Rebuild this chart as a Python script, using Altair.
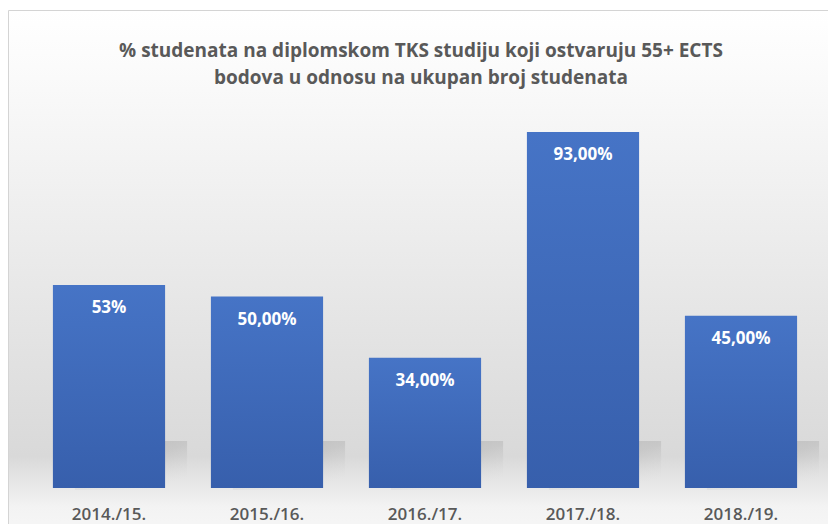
import altair as alt
import pandas as pd

categories = ["2014./15.", "2015./16.", "2016./17.", "2017./18.", "2018./19."]
values = [53, 50, 34, 93, 45]
value_labels = ["53%", "50,00%", "34,00%", "93,00%", "45,00%"]
title_lines = [
    "% studenata na diplomskom TKS studiju koji ostvaruju 55+ ECTS",
    "bodova u odnosu na ukupan broj studenata",
]

W, H = 820, 516
FONT = "Open Sans"
GREY_TEXT = "#595959"

df = pd.DataFrame({"cat": categories, "val": values, "lab": value_labels})
one = pd.DataFrame({"k": [0]})

xs = alt.Scale(domain=categories, range=[22, 812], paddingInner=0.29, paddingOuter=0.145)
ys = alt.Scale(domain=[0, 100], range=[480, 97.2], nice=False, zero=True)
X = alt.X("cat:N", scale=xs, axis=None, sort=categories)

bg = alt.Chart(one).mark_rect(
    fill={
        "gradient": "linear", "x1": 0, "y1": 0, "x2": 0, "y2": 1,
        "stops": [
            {"offset": 0.0, "color": "#ffffff"},
            {"offset": 0.10, "color": "#fbfbfb"},
            {"offset": 0.80, "color": "#d9d9d9"},
            {"offset": 0.89, "color": "#f3f3f3"},
            {"offset": 1.0, "color": "#fbfbfb"},
        ],
    },
    stroke="#d4d4d4", strokeWidth=1,
).encode(x=alt.value(0.5), x2=alt.value(860), y=alt.value(2.5), y2=alt.value(560))

shadow = alt.Chart(df).mark_bar(
    xOffset=22,
    fill={
        "gradient": "linear", "x1": 0, "y1": 0, "x2": 0.6, "y2": 1,
        "stops": [
            {"offset": 0.0, "color": "rgba(140,140,140,0.45)"},
            {"offset": 0.5, "color": "rgba(160,160,160,0.30)"},
            {"offset": 1.0, "color": "rgba(210,210,210,0)"},
        ],
    },
).encode(x=X, y=alt.value(433), y2=alt.value(482))

bars = alt.Chart(df).mark_bar(
    fill={
        "gradient": "linear", "x1": 0, "y1": 0, "x2": 0, "y2": 1,
        "stops": [
            {"offset": 0.0, "color": "#4674c6"},
            {"offset": 1.0, "color": "#375fac"},
        ],
    },
).encode(x=X, y=alt.Y("val:Q", scale=ys, axis=None), y2=alt.datum(0))

vlabels = alt.Chart(df).mark_text(
    font=FONT, fontSize=17, fontWeight="bold", color="#ffffff",
    baseline="alphabetic", dy=28,
).encode(x=X, y=alt.Y("val:Q", scale=ys), text="lab:N")

clabels = alt.Chart(df).mark_text(
    font=FONT, fontSize=17, fontWeight=600, color=GREY_TEXT, baseline="alphabetic",
).encode(x=X, y=alt.value(512), text="cat:N")

t1 = alt.Chart(one).mark_text(
    font=FONT, fontSize=19, fontWeight="bold", color=GREY_TEXT, baseline="alphabetic",
    text=title_lines[0],
).encode(x=alt.value(413), y=alt.value(49))
t2 = alt.Chart(one).mark_text(
    font=FONT, fontSize=19, fontWeight="bold", color=GREY_TEXT, baseline="alphabetic",
    text=title_lines[1],
).encode(x=alt.value(413), y=alt.value(76))

chart = alt.layer(bg, shadow, bars, vlabels, clabels, t1, t2).properties(
    width=W, height=H, padding=0, autosize=alt.AutoSizeParams(type="none"),
    background="#ffffff",
).configure_view(stroke=None)

chart.save("out.html", embed_options={"renderer": "svg", "actions": False})
